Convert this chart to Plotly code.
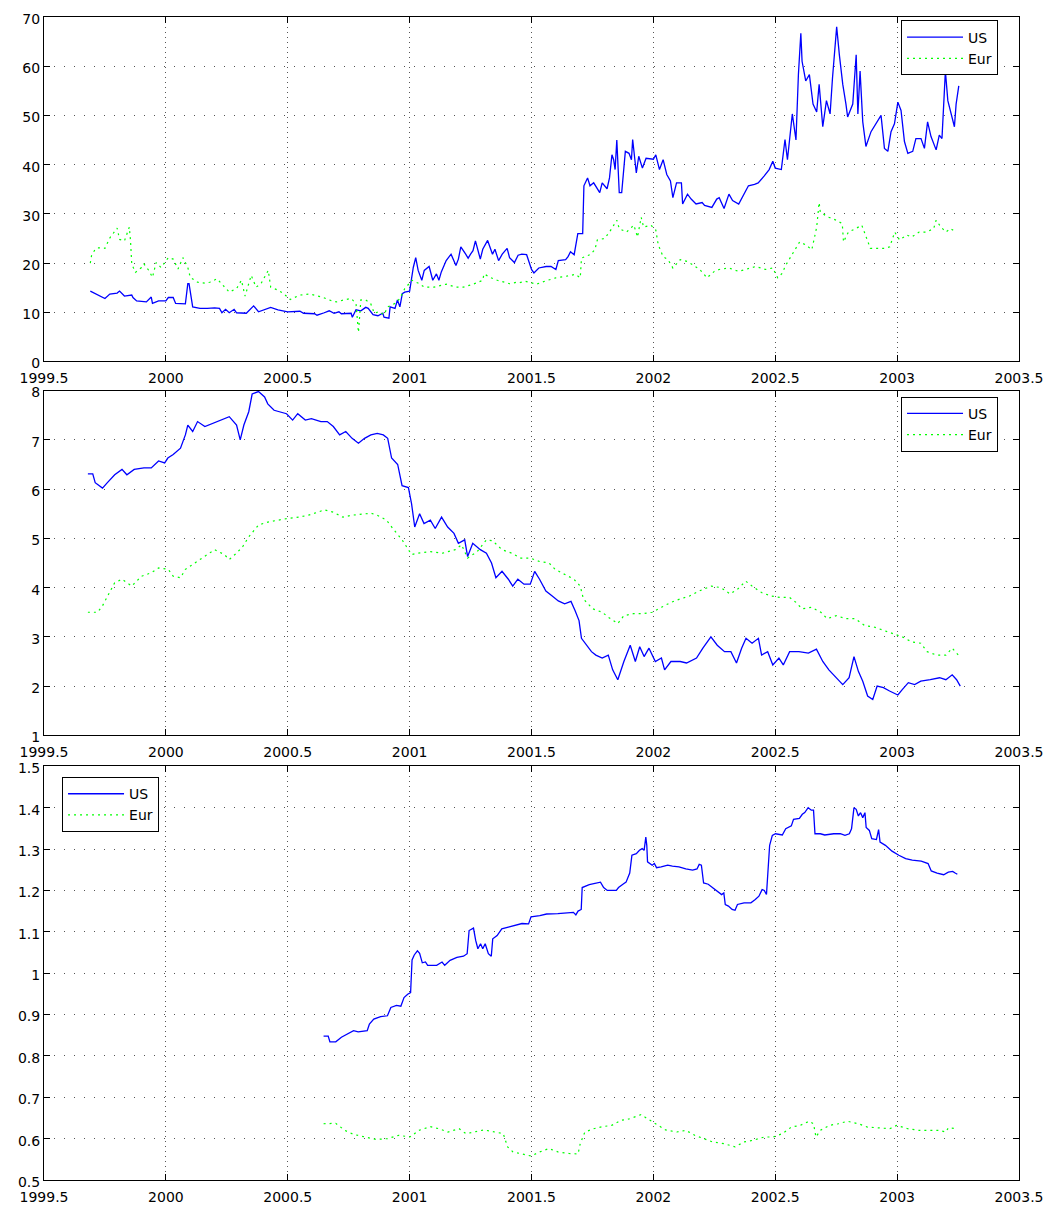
import plotly.graph_objects as go

# ---------------- data (decimal years, values) ----------------
top_us_t = [1999.69,1999.72,1999.75,1999.77,1999.80,1999.81,1999.83,1999.86,1999.865,1999.88,1999.92,1999.94,1999.945,1999.97,2000.00,2000.01,2000.03,2000.04,2000.08,2000.09,2000.095,2000.11,2000.14,2000.17,2000.20,2000.22,2000.23,2000.245,2000.26,2000.28,2000.29,2000.33,2000.36,2000.38,2000.43,2000.46,2000.50,2000.55,2000.565,2000.61,2000.62,2000.65,2000.67,2000.69,2000.71,2000.72,2000.76,2000.765,2000.78,2000.80,2000.82,2000.83,2000.85,2000.87,2000.89,2000.895,2000.915,2000.92,2000.94,2000.95,2000.96,2000.97,2000.98,2001.00,2001.015,2001.025,2001.035,2001.05,2001.06,2001.08,2001.095,2001.11,2001.12,2001.13,2001.15,2001.17,2001.19,2001.20,2001.21,2001.23,2001.24,2001.25,2001.26,2001.27,2001.29,2001.30,2001.32,2001.34,2001.35,2001.365,2001.38,2001.40,2001.41,2001.43,2001.445,2001.46,2001.48,2001.50,2001.51,2001.53,2001.56,2001.58,2001.60,2001.61,2001.64,2001.65,2001.66,2001.675,2001.69,2001.71,2001.715,2001.73,2001.74,2001.755,2001.78,2001.79,2001.81,2001.82,2001.83,2001.837,2001.843,2001.85,2001.86,2001.87,2001.88,2001.885,2001.90,2001.91,2001.915,2001.93,2001.94,2001.955,2001.97,2002.00,2002.01,2002.025,2002.04,2002.055,2002.07,2002.08,2002.095,2002.115,2002.12,2002.14,2002.155,2002.175,2002.20,2002.21,2002.24,2002.26,2002.27,2002.29,2002.31,2002.325,2002.35,2002.37,2002.39,2002.415,2002.43,2002.455,2002.475,2002.49,2002.50,2002.525,2002.54,2002.55,2002.57,2002.585,2002.595,2002.605,2002.61,2002.625,2002.64,2002.655,2002.67,2002.68,2002.695,2002.71,2002.725,2002.735,2002.752,2002.763,2002.777,2002.79,2002.797,2002.818,2002.832,2002.839,2002.848,2002.859,2002.872,2002.893,2002.914,2002.934,2002.948,2002.962,2002.975,2002.989,2003.003,2003.016,2003.03,2003.044,2003.064,2003.077,2003.098,2003.112,2003.125,2003.139,2003.16,2003.173,2003.184,2003.198,2003.208,2003.221,2003.235,2003.242,2003.253]
top_us_v = [14.3,13.5,12.8,13.7,13.9,14.3,13.3,13.5,13.0,12.3,12.1,13.1,11.8,12.3,12.3,13.0,13.0,11.8,11.7,15.8,15.8,11.1,10.8,10.8,10.9,10.8,9.9,10.6,9.9,10.6,9.9,9.8,11.3,10.1,11.0,10.5,10.1,10.2,9.8,9.7,9.4,9.9,10.3,9.8,10.1,9.7,9.8,9.0,10.5,10.3,11.0,10.8,9.5,9.3,9.8,9.0,8.8,11.1,10.8,12.5,11.1,13.8,14.1,14.3,19.1,21.1,18.5,16.5,18.5,19.3,16.5,17.8,16.5,18.2,20.5,21.8,19.5,20.8,23.3,21.8,21.0,21.8,22.5,24.5,20.8,22.8,24.6,21.8,22.8,20.5,21.8,23.0,21.1,20.1,21.6,21.8,21.7,18.7,18.0,19.0,19.3,19.3,18.7,20.5,20.7,21.3,22.3,21.7,26.0,26.0,35.7,37.3,35.7,36.3,34.3,36.3,35.1,37.3,42.0,41.0,39.0,45.0,34.3,34.3,40.3,42.7,42.3,41.0,45.1,38.3,41.7,39.3,41.3,41.1,42.0,39.0,41.0,38.0,36.7,33.3,36.3,36.3,32.0,34.0,33.0,32.0,32.3,31.7,31.3,33.0,33.3,31.1,34.0,32.7,32.0,33.7,35.7,36.0,36.3,37.7,39.0,40.7,39.3,39.0,45.1,41.0,50.3,45.0,58.3,66.7,61.0,57.0,58.3,52.3,50.7,56.3,47.7,53.0,50.3,57.7,68.0,62.3,56.3,52.3,49.7,52.3,62.3,50.3,59.0,48.7,43.7,46.7,48.3,50.0,43.3,42.7,46.7,48.3,52.7,51.0,44.7,42.3,42.7,45.3,45.3,43.3,48.7,45.7,43.0,46.0,45.3,59.0,53.0,50.3,47.7,52.3,56.0]

top_eur_t = [1999.69,1999.695,1999.71,1999.72,1999.75,1999.77,1999.80,1999.81,1999.83,1999.85,1999.855,1999.86,1999.875,1999.90,1999.91,1999.93,1999.945,1999.96,1999.98,2000.01,2000.03,2000.05,2000.07,2000.09,2000.10,2000.13,2000.16,2000.18,2000.21,2000.24,2000.26,2000.29,2000.31,2000.325,2000.35,2000.37,2000.39,2000.42,2000.43,2000.46,2000.485,2000.51,2000.55,2000.59,2000.64,2000.67,2000.70,2000.73,2000.76,2000.78,2000.79,2000.80,2000.82,2000.84,2000.855,2000.875,2000.895,2000.91,2000.94,2000.96,2000.98,2001.01,2001.04,2001.06,2001.10,2001.15,2001.19,2001.22,2001.26,2001.30,2001.305,2001.33,2001.36,2001.39,2001.41,2001.44,2001.45,2001.475,2001.52,2001.56,2001.60,2001.64,2001.68,2001.70,2001.705,2001.74,2001.76,2001.77,2001.80,2001.82,2001.85,2001.86,2001.89,2001.92,2001.935,2001.95,2001.96,2001.99,2002.01,2002.02,2002.04,2002.06,2002.08,2002.11,2002.14,2002.16,2002.19,2002.22,2002.25,2002.27,2002.31,2002.35,2002.39,2002.42,2002.46,2002.49,2002.51,2002.53,2002.54,2002.56,2002.58,2002.60,2002.625,2002.65,2002.67,2002.68,2002.685,2002.72,2002.75,2002.775,2002.78,2002.80,2002.83,2002.855,2002.87,2002.89,2002.92,2002.95,2002.97,2002.99,2003.01,2003.04,2003.06,2003.09,2003.12,2003.15,2003.16,2003.18,2003.20,2003.22,2003.24]
top_eur_v = [20.0,21.5,22.8,23.1,23.0,25.1,27.1,24.8,24.5,27.3,24.5,19.8,18.1,19.1,19.8,18.5,17.1,20.1,19.1,21.1,20.8,18.8,21.1,19.1,17.1,16.1,15.9,16.1,16.8,15.1,14.1,14.8,16.5,13.3,17.5,15.1,15.8,18.5,15.1,14.5,13.7,12.6,13.5,13.7,13.1,12.5,12.1,12.5,12.8,11.8,5.9,12.5,12.5,11.8,9.8,10.1,9.5,11.1,11.8,12.8,14.8,16.5,15.8,15.1,15.1,15.7,15.1,15.1,15.7,16.5,17.8,17.1,16.5,16.1,15.8,16.1,16.0,16.3,15.7,16.4,17.0,17.3,17.7,17.0,21.0,21.7,22.7,24.7,25.0,26.3,28.7,27.0,26.3,27.7,25.3,29.3,27.3,27.7,26.7,23.7,21.3,20.7,19.0,20.7,20.3,19.7,18.7,17.0,18.3,18.7,19.0,18.3,18.9,19.3,18.7,19.0,17.0,18.0,19.3,21.0,22.7,24.3,23.7,22.7,27.3,32.3,30.3,29.3,28.7,28.0,24.3,26.3,27.0,27.7,25.7,23.0,23.0,23.0,23.3,26.3,24.7,25.7,25.3,26.3,26.3,27.0,28.7,27.3,26.3,27.0,26.3]

mid_us_t = [1999.68,1999.70,1999.71,1999.74,1999.76,1999.79,1999.82,1999.84,1999.87,1999.91,1999.94,1999.97,1999.995,2000.008,2000.03,2000.06,2000.08,2000.09,2000.11,2000.13,2000.16,2000.19,2000.22,2000.26,2000.29,2000.305,2000.32,2000.34,2000.354,2000.38,2000.405,2000.418,2000.444,2000.469,2000.495,2000.52,2000.541,2000.572,2000.597,2000.636,2000.662,2000.687,2000.713,2000.738,2000.764,2000.79,2000.815,2000.841,2000.867,2000.892,2000.91,2000.926,2000.951,2000.969,2000.995,2001.008,2001.021,2001.041,2001.059,2001.085,2001.105,2001.131,2001.156,2001.182,2001.2,2001.226,2001.238,2001.259,2001.29,2001.315,2001.336,2001.354,2001.379,2001.405,2001.423,2001.444,2001.469,2001.495,2001.513,2001.533,2001.559,2001.585,2001.61,2001.636,2001.662,2001.679,2001.695,2001.705,2001.726,2001.746,2001.764,2001.79,2001.815,2001.833,2001.854,2001.879,2001.905,2001.926,2001.944,2001.962,2001.982,2002.008,2002.033,2002.046,2002.072,2002.11,2002.136,2002.177,2002.203,2002.236,2002.262,2002.292,2002.318,2002.341,2002.362,2002.38,2002.405,2002.431,2002.444,2002.469,2002.49,2002.515,2002.533,2002.559,2002.597,2002.636,2002.669,2002.695,2002.72,2002.751,2002.777,2002.803,2002.823,2002.841,2002.859,2002.879,2002.9,2002.918,2002.944,2002.969,2003.003,2003.021,2003.046,2003.072,2003.097,2003.136,2003.174,2003.2,2003.226,2003.244,2003.259]
mid_us_v = [6.31,6.31,6.13,6.02,6.13,6.29,6.40,6.29,6.40,6.43,6.43,6.57,6.53,6.63,6.70,6.83,7.10,7.30,7.17,7.37,7.27,7.33,7.40,7.47,7.30,7.00,7.30,7.57,7.93,7.98,7.87,7.73,7.60,7.57,7.53,7.40,7.53,7.40,7.43,7.37,7.37,7.27,7.10,7.17,7.03,6.93,7.03,7.10,7.13,7.10,7.03,6.63,6.50,6.07,6.03,5.70,5.23,5.50,5.30,5.37,5.20,5.43,5.23,5.10,4.90,4.97,4.63,4.90,4.77,4.70,4.50,4.20,4.33,4.17,4.03,4.17,4.07,4.07,4.33,4.17,3.93,3.83,3.73,3.67,3.72,3.53,3.33,2.97,2.83,2.70,2.63,2.57,2.63,2.33,2.13,2.50,2.83,2.50,2.80,2.60,2.77,2.50,2.57,2.33,2.50,2.50,2.47,2.57,2.77,3.00,2.83,2.70,2.70,2.47,2.77,2.97,2.87,2.97,2.63,2.70,2.43,2.57,2.43,2.70,2.70,2.67,2.75,2.50,2.33,2.17,2.03,2.17,2.60,2.30,2.10,1.80,1.73,2.00,1.97,1.90,1.82,1.93,2.07,2.03,2.10,2.13,2.17,2.13,2.23,2.13,2.00]

mid_eur_t = [1999.68,1999.72,1999.74,1999.77,1999.79,1999.82,1999.86,1999.90,1999.94,1999.97,2000.01,2000.03,2000.06,2000.08,2000.12,2000.16,2000.20,2000.24,2000.26,2000.29,2000.315,2000.34,2000.38,2000.418,2000.456,2000.495,2000.546,2000.585,2000.623,2000.649,2000.687,2000.726,2000.764,2000.803,2000.841,2000.867,2000.905,2000.931,2000.969,2001.008,2001.033,2001.085,2001.136,2001.187,2001.213,2001.238,2001.277,2001.315,2001.341,2001.379,2001.418,2001.456,2001.495,2001.533,2001.572,2001.597,2001.636,2001.674,2001.70,2001.713,2001.751,2001.79,2001.815,2001.854,2001.879,2001.918,2001.956,2001.995,2002.033,2002.072,2002.11,2002.149,2002.187,2002.238,2002.277,2002.315,2002.346,2002.379,2002.405,2002.444,2002.482,2002.521,2002.559,2002.585,2002.61,2002.649,2002.687,2002.713,2002.751,2002.79,2002.828,2002.867,2002.905,2002.944,2002.982,2003.021,2003.059,2003.097,2003.123,2003.162,2003.20,2003.226,2003.251]
mid_eur_v = [3.50,3.50,3.63,3.90,4.10,4.17,4.03,4.23,4.30,4.40,4.37,4.23,4.20,4.37,4.50,4.63,4.77,4.67,4.57,4.70,4.83,5.03,5.27,5.33,5.37,5.40,5.43,5.47,5.53,5.58,5.53,5.43,5.47,5.49,5.51,5.47,5.37,5.20,4.97,4.67,4.70,4.73,4.70,4.77,4.87,4.60,4.73,4.97,4.95,4.77,4.70,4.60,4.60,4.53,4.50,4.37,4.27,4.17,4.03,3.77,3.57,3.50,3.40,3.27,3.43,3.47,3.47,3.50,3.60,3.70,3.77,3.83,3.93,4.03,4.00,3.87,3.97,4.13,4.03,3.90,3.83,3.80,3.80,3.70,3.57,3.60,3.50,3.37,3.43,3.37,3.37,3.23,3.20,3.13,3.07,3.00,2.90,2.87,2.70,2.63,2.63,2.77,2.63]

bot_us_t = [2000.647,2000.666,2000.673,2000.697,2000.72,2000.743,2000.77,2000.789,2000.826,2000.835,2000.853,2000.881,2000.909,2000.923,2000.946,2000.964,2000.977,2000.992,2001.004,2001.01,2001.019,2001.032,2001.041,2001.052,2001.065,2001.074,2001.111,2001.133,2001.144,2001.166,2001.194,2001.221,2001.236,2001.244,2001.255,2001.262,2001.271,2001.28,2001.291,2001.30,2001.31,2001.323,2001.335,2001.341,2001.359,2001.378,2001.405,2001.433,2001.461,2001.488,2001.498,2001.534,2001.562,2001.608,2001.672,2001.682,2001.691,2001.704,2001.708,2001.737,2001.774,2001.783,2001.796,2001.811,2001.848,2001.857,2001.875,2001.888,2001.903,2001.912,2001.93,2001.943,2001.954,2001.962,2001.969,2001.973,2001.976,2001.995,2002.004,2002.013,2002.032,2002.059,2002.078,2002.105,2002.133,2002.161,2002.179,2002.188,2002.197,2002.206,2002.225,2002.243,2002.262,2002.28,2002.289,2002.295,2002.308,2002.323,2002.335,2002.345,2002.372,2002.40,2002.418,2002.433,2002.446,2002.455,2002.464,2002.473,2002.477,2002.488,2002.501,2002.529,2002.543,2002.566,2002.575,2002.599,2002.611,2002.621,2002.635,2002.648,2002.657,2002.663,2002.685,2002.703,2002.74,2002.767,2002.786,2002.804,2002.813,2002.823,2002.832,2002.841,2002.85,2002.859,2002.868,2002.873,2002.886,2002.896,2002.915,2002.924,2002.93,2002.952,2002.979,2003.007,2003.035,2003.062,2003.099,2003.127,2003.14,2003.164,2003.191,2003.21,2003.228,2003.238,2003.247]
bot_us_v = [0.848,0.848,0.834,0.834,0.845,0.853,0.861,0.858,0.861,0.877,0.889,0.895,0.897,0.917,0.922,0.920,0.941,0.949,0.953,1.032,1.044,1.054,1.048,1.025,1.027,1.019,1.019,1.027,1.019,1.031,1.038,1.041,1.047,1.103,1.107,1.109,1.079,1.059,1.071,1.059,1.071,1.047,1.041,1.083,1.091,1.107,1.111,1.115,1.120,1.119,1.136,1.139,1.143,1.144,1.147,1.141,1.150,1.154,1.207,1.214,1.218,1.220,1.207,1.200,1.200,1.207,1.215,1.220,1.242,1.285,1.289,1.297,1.301,1.297,1.329,1.309,1.269,1.261,1.265,1.255,1.257,1.261,1.259,1.257,1.252,1.249,1.252,1.263,1.261,1.218,1.215,1.207,1.198,1.190,1.194,1.166,1.162,1.154,1.152,1.166,1.170,1.170,1.178,1.186,1.202,1.200,1.190,1.269,1.309,1.333,1.337,1.334,1.349,1.356,1.372,1.374,1.384,1.388,1.400,1.394,1.394,1.337,1.337,1.334,1.337,1.337,1.333,1.337,1.349,1.400,1.396,1.380,1.388,1.376,1.388,1.352,1.345,1.325,1.323,1.347,1.317,1.309,1.295,1.285,1.277,1.273,1.271,1.265,1.247,1.242,1.238,1.244,1.246,1.242,1.239]

bot_eur_t = [2000.647,2000.678,2000.697,2000.734,2000.771,2000.817,2000.863,2000.909,2000.955,2001.001,2001.038,2001.084,2001.12,2001.157,2001.203,2001.231,2001.268,2001.304,2001.35,2001.384,2001.402,2001.424,2001.461,2001.498,2001.534,2001.571,2001.608,2001.654,2001.691,2001.70,2001.719,2001.755,2001.792,2001.829,2001.866,2001.903,2001.949,2001.976,2002.013,2002.05,2002.096,2002.133,2002.17,2002.206,2002.243,2002.289,2002.335,2002.372,2002.409,2002.455,2002.492,2002.529,2002.566,2002.602,2002.639,2002.657,2002.667,2002.685,2002.722,2002.759,2002.796,2002.841,2002.878,2002.924,2002.97,2002.998,2003.044,2003.09,2003.136,2003.173,2003.20,2003.21,2003.247]
bot_eur_v = [0.636,0.636,0.637,0.620,0.610,0.604,0.598,0.600,0.608,0.604,0.620,0.629,0.624,0.616,0.624,0.612,0.616,0.621,0.616,0.612,0.580,0.568,0.563,0.558,0.568,0.576,0.568,0.564,0.563,0.588,0.616,0.624,0.629,0.632,0.644,0.648,0.658,0.648,0.636,0.621,0.616,0.620,0.608,0.600,0.592,0.588,0.580,0.592,0.596,0.604,0.604,0.612,0.628,0.632,0.642,0.636,0.604,0.620,0.632,0.636,0.642,0.636,0.628,0.626,0.624,0.632,0.624,0.620,0.620,0.620,0.616,0.626,0.624]

series_names = ["US", "Eur"]
x_tickvals = [1999.5, 2000, 2000.5, 2001, 2001.5, 2002, 2002.5, 2003, 2003.5]
x_ticktext = ["1999.5", "2000", "2000.5", "2001", "2001.5", "2002", "2002.5", "2003", "2003.5"]
x_range = [1999.5, 2003.5]
y_ranges = [[0, 70], [1, 8], [0.5, 1.5]]
y_dticks = [10, 1, 0.1]

# ---------------- figure ----------------
US_COLOR = "#0000ff"
EUR_COLOR = "#00ff00"
FAMILY = "DejaVu Sans, Liberation Sans, Arial"
FONT = dict(family=FAMILY, size=14, color="black")

panels = [
    (top_us_t, top_us_v, top_eur_t, top_eur_v),
    (mid_us_t, mid_us_v, mid_eur_t, mid_eur_v),
    (bot_us_t, bot_us_v, bot_eur_t, bot_eur_v),
]
domains = [[0.7038, 1.0], [0.3823, 0.6788], [0.0, 0.3557]]
legend_ids = ["legend", "legend2", "legend3"]

fig = go.Figure()
for i, (ut, uv, et, ev) in enumerate(panels):
    ax = "" if i == 0 else str(i + 1)
    fig.add_trace(go.Scatter(x=ut, y=uv, mode="lines", name=series_names[0],
                             line=dict(color=US_COLOR, width=1.3),
                             xaxis="x" + ax, yaxis="y" + ax, legend=legend_ids[i]))
    fig.add_trace(go.Scatter(x=et, y=ev, mode="lines", name=series_names[1],
                             line=dict(color=EUR_COLOR, width=1.2, dash="2px,4px"),
                             xaxis="x" + ax, yaxis="y" + ax, legend=legend_ids[i]))

axis_common = dict(showline=True, linecolor="black", linewidth=1, mirror="ticks",
                   ticks="inside", ticklen=6, tickcolor="black", tickwidth=1,
                   showgrid=True, gridcolor="#555555", gridwidth=1,
                   zeroline=False, tickfont=FONT)

layout = dict(width=1059, height=1216, paper_bgcolor="white", plot_bgcolor="white",
              margin=dict(l=44, r=40, t=11, b=21), font=FONT, showlegend=True)
for i in range(3):
    ax = "" if i == 0 else str(i + 1)
    layout["xaxis" + ax] = dict(axis_common, domain=[0, 1], range=x_range,
                                tickmode="array", tickvals=x_tickvals, ticktext=x_ticktext,
                                ticklabelstandoff=4, anchor="y" + ax, griddash="1px,4px")
    layout["yaxis" + ax] = dict(axis_common, domain=domains[i], range=y_ranges[i],
                                dtick=y_dticks[i], tick0=y_ranges[i][0], anchor="x" + ax,
                                ticklabelshift=2, griddash="1px,9px")

leg_common = dict(bgcolor="white", bordercolor="black", borderwidth=1,
                  font=dict(family=FAMILY, size=14, color="black"),
                  tracegroupgap=0, itemwidth=56, xanchor="left", yanchor="top",
                  traceorder="normal")
layout["legend"] = dict(leg_common, x=0.879, y=0.997)
layout["legend2"] = dict(leg_common, x=0.879, y=0.6734)
layout["legend3"] = dict(leg_common, x=0.0185, y=0.3464)

fig.update_layout(**layout)
fig.write_html("out.html", config={"displayModeBar": False},
               post_script="document.body.style.margin='0px';document.body.style.overflow='hidden';")
